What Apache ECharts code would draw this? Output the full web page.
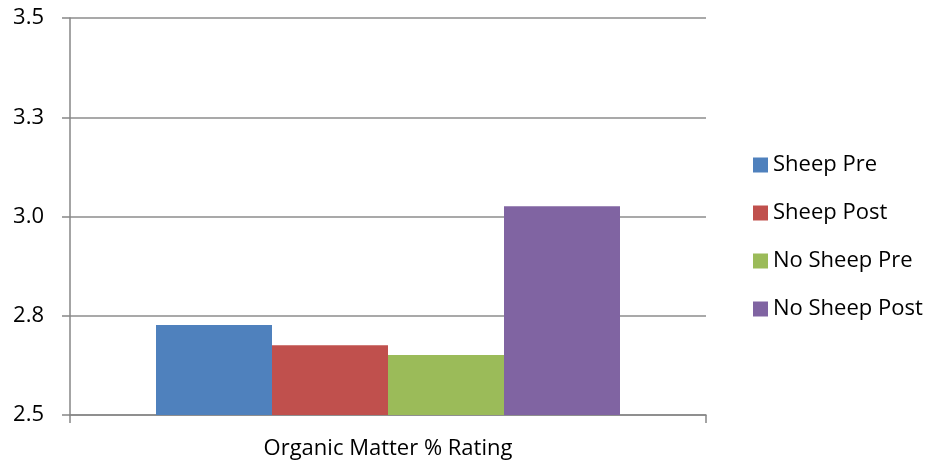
<!DOCTYPE html>
<html>
<head>
<meta charset="utf-8">
<script src="https://cdn.jsdelivr.net/npm/echarts@6/dist/echarts.min.js"></script>
<style>
  html, body { margin: 0; padding: 0; background: #fff; }
  #chart { width: 931px; height: 468px; }
</style>
</head>
<body>
<div id="chart"></div>
<script>
var categories = ['Organic Matter % Rating'];
var seriesNames = ['Sheep Pre', 'Sheep Post', 'No Sheep Pre', 'No Sheep Post'];
var seriesValues = [[2.727], [2.676], [2.651], [3.026]];
var seriesColors = ['#4f81bd', '#c0504d', '#9bbb59', '#8064a2'];

var fontName = 'Open Sans';

var chart = echarts.init(document.getElementById('chart'));

var series = seriesNames.map(function (name, i) {
  return {
    name: name,
    type: 'bar',
    data: seriesValues[i],
    barWidth: 116,
    barGap: '0%',
    itemStyle: { color: seriesColors[i] }
  };
});

chart.setOption({
  animation: false,
  textStyle: { fontFamily: fontName },
  grid: { left: 70, right: 225, top: 18, bottom: 53 },
  legend: {
    orient: 'vertical',
    left: 748,
    top: 149,
    itemWidth: 15,
    itemHeight: 15,
    itemGap: 26,
    icon: 'rect',
    textStyle: { fontSize: 22, color: '#000', fontFamily: fontName },
    data: seriesNames
  },
  xAxis: {
    type: 'category',
    data: categories,
    axisLine: { lineStyle: { color: '#868686', width: 1.5 } },
    axisTick: { show: true, length: 8, lineStyle: { color: '#868686', width: 1.5 } },
    axisLabel: { fontSize: 22, color: '#000', margin: 23 }
  },
  yAxis: {
    type: 'value',
    min: 2.5,
    max: 3.5,
    interval: 0.25,
    axisLine: { show: true, lineStyle: { color: '#868686', width: 1.5 } },
    axisTick: { show: true, length: 8, lineStyle: { color: '#868686', width: 1.5 } },
    splitLine: { lineStyle: { color: '#8c8c8c', width: 1.5 } },
    axisLabel: {
      fontSize: 22,
      color: '#000',
      margin: 26,
      formatter: function (v) { return v.toFixed(1); }
    }
  },
  series: series
});
</script>
</body>
</html>
